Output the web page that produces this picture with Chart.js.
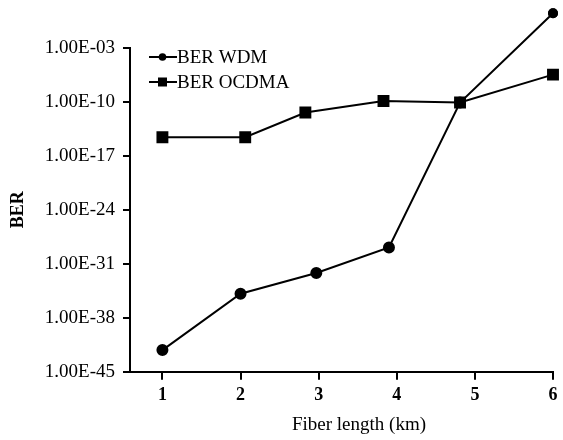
<!DOCTYPE html>
<html>
<head>
<meta charset="utf-8">
<script src="https://cdn.jsdelivr.net/npm/chart.js@4"></script>
<style>
html,body{margin:0;padding:0;background:#fff;}
#wrap{width:563px;height:440px;position:relative;}
</style>
</head>
<body>
<div id="wrap"><canvas id="c"></canvas></div>
<script>
// Data
const wdmX = [1, 2, 2.97, 3.9, 4.81, 6];
const wdmY = [6.3e-43, 1.26e-35, 6.3e-33, 1.26e-29, 7.9e-11, 28.8];
const ocdmaX = [1, 2.06, 2.83, 3.83, 4.81, 6];
const ocdmaY = [2.5e-15, 2.5e-15, 4.0e-12, 1.26e-10, 7.9e-11, 3.2e-7];
const seriesLabels = ['BER WDM', 'BER OCDMA'];
const xTitle = 'Fiber length (km)';
const yTitle = 'BER';
const xTicks = [1, 2, 3, 4, 5, 6];
const yTicks = [1e-45, 1e-38, 1e-31, 1e-24, 1e-17, 1e-10, 1e-3];
const yTickLabels = ['1.00E-45', '1.00E-38', '1.00E-31', '1.00E-24', '1.00E-17', '1.00E-10', '1.00E-03'];

const FONT = "'Liberation Serif', 'Times New Roman', serif";

function pts(xs, ys) { return xs.map((x, i) => ({x: x, y: ys[i]})); }

// Draws points that fall outside the chart area (Chart.js skips them), at the library's computed positions
const outsidePoints = {
  id: 'outsidePoints',
  afterDatasetsDraw(chart) {
    const ctx = chart.ctx;
    const a = chart.chartArea;
    chart.data.datasets.forEach((ds, di) => {
      const meta = chart.getDatasetMeta(di);
      meta.data.forEach((p) => {
        if (p.y < a.top - 1 || p.y > a.bottom + 1) {
          const o = p.options;
          Chart.helpers.drawPoint(ctx, {
            pointStyle: o.pointStyle, rotation: 0, radius: o.radius, borderWidth: 0
          }, p.x, p.y);
          ctx.save();
          ctx.fillStyle = '#000';
          ctx.beginPath();
          if (o.pointStyle === 'circle') { ctx.arc(p.x, p.y, o.radius, 0, Math.PI * 2); }
          ctx.fill();
          ctx.restore();
        }
      });
    });
  }
};

const legendAndTitle = {
  id: 'inLegend',
  afterDraw(chart) {
    const ctx = chart.ctx;
    ctx.save();
    const rows = [
      {y: 57, style: 'circle'},
      {y: 82, style: 'rect'}
    ];
    chart.data.datasets.forEach((ds, i) => {
      const r = rows[i];
      ctx.strokeStyle = '#000';
      ctx.fillStyle = '#000';
      ctx.lineWidth = 2;
      ctx.beginPath();
      ctx.moveTo(149, r.y);
      ctx.lineTo(177, r.y);
      ctx.stroke();
      if (r.style === 'circle') {
        ctx.beginPath();
        ctx.arc(162.5, r.y, 3.8, 0, Math.PI * 2);
        ctx.fill();
      } else {
        ctx.fillRect(158, r.y - 4.5, 9, 9);
      }
      ctx.font = '19px ' + FONT;
      ctx.textBaseline = 'middle';
      ctx.textAlign = 'left';
      ctx.fillText(ds.label, 177, r.y + 1.5);
    });
    // x-axis title (offset right of chart-area centre, as in the reference)
    ctx.font = '19px ' + FONT;
    ctx.textAlign = 'center';
    ctx.textBaseline = 'middle';
    ctx.fillText(xTitle, 359, 425);
    ctx.restore();
  }
};

new Chart(document.getElementById('c'), {
  type: 'line',
  data: {
    datasets: [
      {
        label: seriesLabels[0],
        data: pts(wdmX, wdmY),
        borderColor: '#000',
        backgroundColor: '#000',
        borderWidth: 2,
        pointStyle: 'circle',
        pointRadius: 5,
        pointHoverRadius: 5,
        clip: false,
        tension: 0
      },
      {
        label: seriesLabels[1],
        data: pts(ocdmaX, ocdmaY),
        borderColor: '#000',
        backgroundColor: '#000',
        borderWidth: 2,
        pointStyle: 'rect',
        pointRadius: 7,
        pointHoverRadius: 7,
        clip: false,
        tension: 0
      }
    ]
  },
  options: {
    responsive: true,
    maintainAspectRatio: false,
    animation: false,
    layout: {padding: {left: 4, top: 47.7, right: 10, bottom: 0}},
    plugins: {legend: {display: false}, tooltip: {enabled: false}},
    scales: {
      x: {
        type: 'linear',
        min: 0.585,
        max: 6,
        afterBuildTicks: (s) => { s.ticks = xTicks.map(v => ({value: v})); },
        afterFit: (s) => { s.height = 68.3; },
        grid: {drawOnChartArea: false, drawTicks: true, tickLength: 8, color: '#000', lineWidth: 2},
        border: {color: '#000', width: 2},
        ticks: {color: '#000', font: {family: FONT, size: 18, weight: 'bold'}, padding: 5, maxRotation: 0,
          callback: (v) => String(v)},
        title: {display: false}
      },
      y: {
        type: 'logarithmic',
        min: 1e-45,
        max: 1e-3,
        afterBuildTicks: (s) => { s.ticks = yTicks.map(v => ({value: v})); },
        afterFit: (s) => { s.width = 126; },
        grid: {drawOnChartArea: false, drawTicks: true, tickLength: 7, color: '#000', lineWidth: 2},
        border: {color: '#000', width: 2},
        ticks: {color: '#000', font: {family: FONT, size: 19}, padding: 8,
          callback: (v) => { const i = yTicks.findIndex(t => Math.abs(Math.log10(t) - Math.log10(v)) < 1e-6); return i >= 0 ? yTickLabels[i] : ''; }},
        title: {display: true, text: yTitle, color: '#000', font: {family: FONT, size: 18, weight: 'bold'}, padding: {top: 4, bottom: 4}}
      }
    }
  },
  plugins: [outsidePoints, legendAndTitle]
});
</script>
</body>
</html>
